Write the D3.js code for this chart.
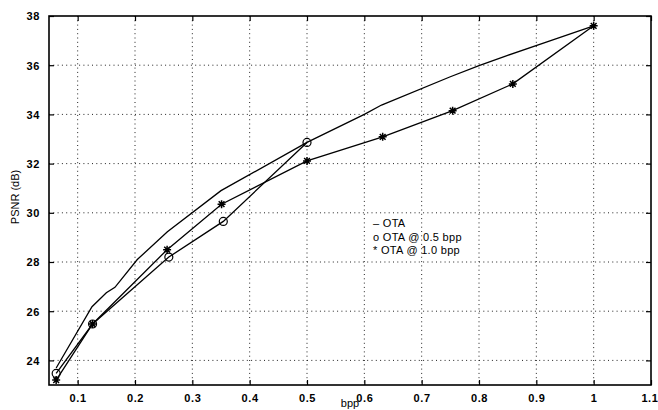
<!DOCTYPE html>
<html><head><meta charset="utf-8">
<script src="https://cdn.jsdelivr.net/npm/d3@7"></script>
<style>body{margin:0;background:#fff}svg{display:block}text{font-family:"Liberation Sans",Arial,sans-serif;fill:#000}</style>
</head><body><svg id="c" width="658" height="410"></svg>
<script>
// Data
const otaX   = [0.0625, 0.125, 0.15, 0.165, 0.204, 0.2565, 0.35, 0.5, 0.6, 0.63, 0.75, 0.8, 0.85, 0.925, 1.0];
const otaY   = [23.69, 26.18, 26.75, 26.97, 28.1, 29.23, 30.9, 32.86, 34.0, 34.38, 35.53, 35.98, 36.4, 37.0, 37.6];
const ota05X = [0.0625, 0.126, 0.259, 0.354, 0.5];
const ota05Y = [23.47, 25.48, 28.2, 29.65, 32.86];
const ota10X = [0.0625, 0.126, 0.256, 0.351, 0.5, 0.632, 0.754, 0.859, 1.0];
const ota10Y = [23.2, 25.48, 28.5, 30.35, 32.11, 33.09, 34.15, 35.24, 37.6];
const xTicks = [0.1, 0.2, 0.3, 0.4, 0.5, 0.6, 0.7, 0.8, 0.9, 1, 1.1];
const yTicks = [24, 26, 28, 30, 32, 34, 36, 38];
const legendLabels = ["\u2013 OTA", "o OTA @ 0.5 bpp", "* OTA @ 1.0 bpp"];

const svg = d3.select("#c");
const L = 49, R = 651, T = 16, B = 385;
const x = d3.scaleLinear().domain([0.05, 1.1]).range([L, R]);
const y = d3.scaleLinear().domain([23, 38]).range([B, T]);

// grid
const g = svg.append("g");
g.selectAll(".gx").data(xTicks.filter(d => d < 1.1)).enter().append("line")
  .attr("x1", d => x(d)).attr("x2", d => x(d)).attr("y1", T).attr("y2", B)
  .attr("stroke", "#222").attr("stroke-width", 1).attr("stroke-dasharray", "1,3.3");
g.selectAll(".gy").data(yTicks.filter(d => d < 38)).enter().append("line")
  .attr("y1", d => y(d)).attr("y2", d => y(d)).attr("x1", L).attr("x2", R)
  .attr("stroke", "#222").attr("stroke-width", 1).attr("stroke-dasharray", "1,3.3");

// axes (inward ticks) using d3 axes
const fmtX = d => (d === 1 ? "1" : d3.format(".1f")(d));
const axB = svg.append("g").attr("transform", `translate(0,${B})`)
  .call(d3.axisBottom(x).tickValues(xTicks).tickSizeInner(-5).tickSizeOuter(0).tickPadding(9).tickFormat(fmtX));
const axT = svg.append("g").attr("transform", `translate(0,${T})`)
  .call(d3.axisTop(x).tickValues(xTicks).tickSizeInner(-5).tickSizeOuter(0).tickFormat(""));
const axL = svg.append("g").attr("transform", `translate(${L},0)`)
  .call(d3.axisLeft(y).tickValues(yTicks).tickSizeInner(-5).tickSizeOuter(0).tickPadding(9));
const axR = svg.append("g").attr("transform", `translate(${R},0)`)
  .call(d3.axisRight(y).tickValues(yTicks).tickSizeInner(-5).tickSizeOuter(0).tickFormat(""));
[axB, axT, axL, axR].forEach(a => {
  a.select(".domain").remove();
  a.selectAll("line").attr("stroke", "#000").attr("stroke-width", 1.2);
  a.selectAll("text").attr("font-size", 11).attr("font-weight", "bold").attr("fill", "#000")
    .style("font-family", '"Liberation Sans",Arial,sans-serif').style("letter-spacing", "0.6px");
});
axL.selectAll("text").attr("dy", "0.36em");
axB.selectAll("text").filter(d => d === 1.1).attr("text-anchor", "end").attr("dx", "7");

// frame
svg.append("rect").attr("x", L).attr("y", T).attr("width", R - L).attr("height", B - T)
  .attr("fill", "none").attr("stroke", "#000").attr("stroke-width", 1.6);

// lines
const line = d3.line().x(d => x(d[0])).y(d => y(d[1]));
const ota = otaX.map((v, i) => [v, otaY[i]]);
const o05 = ota05X.map((v, i) => [v, ota05Y[i]]);
const o10 = ota10X.map((v, i) => [v, ota10Y[i]]);
[ota, o05, o10].forEach(dat => svg.append("path").datum(dat).attr("d", line)
  .attr("fill", "none").attr("stroke", "#000").attr("stroke-width", 1.3));

// circle markers
svg.selectAll(".circ").data(o05).enter().append("circle")
  .attr("cx", d => x(d[0])).attr("cy", d => y(d[1])).attr("r", 4)
  .attr("fill", "none").attr("stroke", "#000").attr("stroke-width", 1.2);

// star markers
const s = 4;
const star = `M${-s},0L${s},0M0,${-s}L0,${s}M${-s*0.72},${-s*0.72}L${s*0.72},${s*0.72}M${-s*0.72},${s*0.72}L${s*0.72},${-s*0.72}`;
svg.selectAll(".star").data(o10).enter().append("path")
  .attr("transform", d => `translate(${x(d[0])},${y(d[1])})`)
  .attr("d", star).attr("stroke", "#000").attr("stroke-width", 1.5).attr("fill", "none");

// legend (text)
const legY = [226.5, 240.5, 254];
svg.selectAll(".leg").data(legendLabels).enter().append("text")
  .attr("x", 373).attr("y", (d, i) => legY[i]).attr("font-size", 11)
  .style("letter-spacing", "0.3px").text(d => d);

// axis titles
svg.append("text").attr("x", (L + R) / 2).attr("y", 407).attr("text-anchor", "middle")
  .attr("font-size", 11).text("bpp");
svg.append("text").attr("transform", `translate(19,197) rotate(-90)`).attr("text-anchor", "middle")
  .attr("font-size", 11).text("PSNR (dB)");
</script></body></html>
